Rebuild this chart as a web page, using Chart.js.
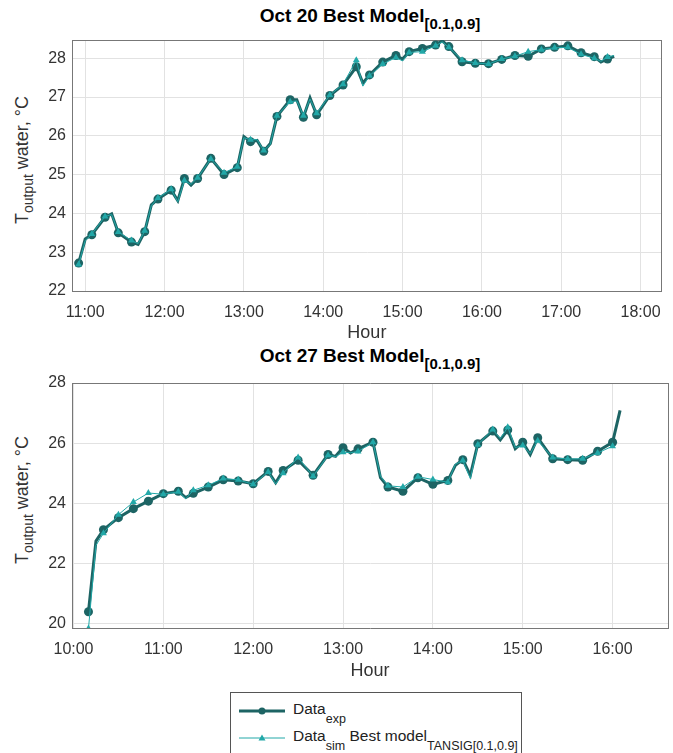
<!DOCTYPE html>
<html>
<head>
<meta charset="utf-8">
<script src="https://cdn.jsdelivr.net/npm/chart.js@4.4.0/dist/chart.umd.min.js"></script>
<style>
  body { margin: 0; background: #fff; width: 673px; height: 753px; overflow: hidden; position: relative;
         font-family: "Liberation Sans", Arial, sans-serif; }
  .box { position: absolute; left: 0; width: 673px; height: 345px; }
  .title { position: absolute; left: 72px; width: 596px; text-align: center; font-weight: bold; font-size: 19px; color: #000; }
  .title sub { font-size: 15px; position: relative; top: 2px; }
  .ylab { position: absolute; width: 300px; height: 24px; line-height: 24px; text-align: center; font-size: 18px;
          color: #333; transform: rotate(-90deg); white-space: nowrap; }
  .ylab sub { font-size: 14px; }
  #legend { position: absolute; left: 230px; top: 692px; width: 290px; height: 70px; border: 1px solid #555;
            background: #fff; font-size: 15.5px; color: #222; }
  .row { position: absolute; left: 6px; height: 24px; display: flex; align-items: center; }
  .row sub { font-size: 12.5px; position: relative; top: 4px; }
</style>
</head>
<body>
<div class="title" style="top:5px">Oct 20 Best Model<sub>[0.1,0.9]</sub></div>
<div class="ylab" style="left:-128px;top:148px">T<sub>output</sub> water, °C</div>
<div class="box" style="top:0"><canvas id="c1" width="673" height="345"></canvas></div>

<div class="title" style="top:345px">Oct 27 Best Model<sub>[0.1,0.9]</sub></div>
<div class="ylab" style="left:-128px;top:488px">T<sub>output</sub> water, °C</div>
<div class="box" style="top:345px"><canvas id="c2" width="673" height="345"></canvas></div>

<div id="legend">
  <div class="row" style="top:6px">
    <svg width="50" height="14"><line x1="2" y1="7" x2="48" y2="7" stroke="#1d6464" stroke-width="3"/><circle cx="25" cy="7" r="3.5" fill="#1d6464"/></svg>
    <span style="margin-left:6px">Data<sub>exp</sub></span>
  </div>
  <div class="row" style="top:33px">
    <svg width="50" height="14"><line x1="2" y1="7" x2="48" y2="7" stroke="#22a8a8" stroke-width="1"/><path d="M25 3.5 L28.5 9.5 L21.5 9.5 Z" fill="#22a8a8"/></svg>
    <span style="margin-left:6px">Data<sub>sim</sub> Best model<sub>TANSIG[0.1,0.9]</sub></span>
  </div>
</div>

<script>
// Oct 20
const oct20Times = ['10:55','11:00','11:05','11:15','11:20','11:25','11:35','11:40','11:45','11:50','11:55',
  '12:05','12:10','12:15','12:20','12:25','12:35','12:45','12:55','13:00','13:05','13:10','13:15','13:20','13:25',
  '13:35','13:40','13:45','13:50','13:55','14:05','14:15','14:25','14:30','14:35','14:45','14:55','15:00','15:05',
  '15:15','15:25','15:30','15:35','15:45','15:55','16:05','16:15','16:25','16:35','16:45','16:55','17:05','17:15',
  '17:25','17:30','17:35','17:40'];
const oct20Exp = [22.72,23.34,23.45,23.90,23.99,23.50,23.26,23.20,23.53,24.22,24.37,24.60,24.33,24.90,24.73,24.90,
  25.42,25.00,25.18,25.98,25.85,25.88,25.60,25.80,26.50,26.93,26.93,26.48,26.98,26.54,27.04,27.31,27.78,27.36,27.57,
  27.90,28.07,27.98,28.17,28.25,28.34,28.45,28.30,27.91,27.87,27.86,27.97,28.07,28.05,28.24,28.28,28.32,28.14,28.04,
  27.90,27.98,28.05];
const oct20Sim = [22.68,23.30,23.47,23.92,23.97,23.52,23.30,23.22,23.55,24.20,24.40,24.62,24.30,24.85,24.75,24.92,
  25.40,25.05,25.20,25.95,25.90,25.90,25.62,25.78,26.52,26.88,26.90,26.52,26.95,26.58,27.05,27.33,27.95,27.28,27.55,
  27.85,28.02,27.93,28.15,28.17,28.32,28.42,28.28,27.95,27.88,27.85,27.98,28.05,28.17,28.22,28.27,28.28,28.10,28.00,
  27.92,28.03,28.07];

// Oct 27
const oct27Times = ['10:10','10:15','10:20','10:30','10:40','10:50','11:00','11:10','11:15','11:20','11:30','11:40',
  '11:50','12:00','12:10','12:15','12:20','12:30','12:40','12:50','12:55','13:00','13:05','13:10','13:20','13:25',
  '13:30','13:40','13:50','14:00','14:10','14:15','14:20','14:25','14:30','14:40','14:45','14:50','14:55','15:00',
  '15:05','15:10','15:20','15:30','15:40','15:50','16:00','16:05'];
const oct27Exp = [20.39,22.74,23.12,23.52,23.82,24.07,24.32,24.40,24.19,24.33,24.54,24.78,24.74,24.65,25.06,24.68,
  25.09,25.43,24.93,25.62,25.56,25.85,25.67,25.81,26.03,24.85,24.54,24.40,24.85,24.63,24.76,25.26,25.45,24.93,25.98,
  26.40,26.11,26.44,25.81,26.03,25.62,26.18,25.48,25.45,25.43,25.73,26.03,27.09];
const oct27Sim = [19.83,22.60,23.00,23.62,24.04,24.34,24.30,24.38,24.15,24.43,24.60,24.82,24.78,24.63,25.04,24.64,
  25.00,25.52,24.90,25.60,25.55,25.70,25.68,25.72,26.03,24.90,24.58,24.54,24.88,24.79,24.70,25.30,25.42,24.82,25.95,
  26.45,26.15,26.53,25.85,25.92,25.65,26.08,25.52,25.47,25.48,25.67,25.90,null];

const hourTicks = ['10:00','11:00','12:00','13:00','14:00','15:00','16:00','17:00','18:00'];

const toMin = s => { const [h, m] = s.split(':').map(Number); return h * 60 + m; };
const fmt = v => Math.floor(v / 60) + ':' + String(v % 60).padStart(2, '0');
const hourMins = hourTicks.map(toMin);

function makeChart(id, times, exp, sim, opt) {
  const pts = arr => times.map((t, i) => ({ x: toMin(t), y: arr[i] }));
  const marked = c => c.raw && (c.raw.x % 10) === opt.markRem;
  const tickFont = { family: '"Liberation Sans", Arial, sans-serif', size: 16 };
  new Chart(document.getElementById(id), {
    type: 'line',
    data: {
      datasets: [
        { label: 'Data sim', data: pts(sim), borderColor: '#22a8a8', backgroundColor: '#22a8a8', borderWidth: 1,
          pointStyle: 'triangle', pointRadius: c => marked(c) ? 4 : 0, pointBorderWidth: 0, order: 0 },
        { label: 'Data exp', data: pts(exp), borderColor: '#1d6464', backgroundColor: '#1d6464', borderWidth: 3,
          pointStyle: 'circle', pointRadius: c => marked(c) ? 4.5 : 0, pointBorderWidth: 0, order: 1 }
      ]
    },
    options: {
      responsive: false,
      animation: false,
      layout: { padding: { top: opt.padTop, right: 5, left: 0, bottom: 0 } },
      plugins: { legend: { display: false }, tooltip: { enabled: false } },
      scales: {
        x: {
          type: 'linear', min: opt.xMin, max: opt.xMax,
          afterBuildTicks: s => { s.ticks = hourMins.filter(v => v >= opt.xMin && v <= opt.xMax).map(v => ({ value: v })); },
          afterFit: s => { s.height = opt.xHeight; },
          ticks: { callback: v => fmt(v), color: '#333', font: tickFont, padding: 12, maxRotation: 0 },
          grid: { color: '#e2e2e2', drawTicks: false },
          border: { color: '#777' },
          title: { display: true, text: 'Hour', color: '#333', font: { family: tickFont.family, size: 18 },
                   padding: { top: 0, bottom: opt.titlePad } }
        },
        y: {
          min: opt.yMin, max: opt.yMax,
          afterBuildTicks: s => { s.ticks = opt.yTicks.map(v => ({ value: v })); },
          afterFit: s => { s.width = 72; },
          ticks: { color: '#333', font: tickFont, padding: 6 },
          grid: { color: '#e2e2e2', drawTicks: false },
          border: { color: '#777' }
        },
        x2: { position: 'top', display: true, afterFit: s => { s.height = 0; },
              ticks: { display: false }, grid: { display: false }, border: { color: '#777' } },
        y2: { position: 'right', display: true, afterFit: s => { s.width = 0; },
              ticks: { display: false }, grid: { display: false }, border: { color: '#777' } }
      }
    }
  });
}

makeChart('c1', oct20Times, oct20Exp, oct20Sim, {
  xMin: toMin('10:50'), xMax: toMin('18:16'), yMin: 22, yMax: 28.47, yTicks: [22, 23, 24, 25, 26, 27, 28],
  markRem: 5, padTop: 40, xHeight: 54, titlePad: 1
});
makeChart('c2', oct27Times, oct27Exp, oct27Sim, {
  xMin: toMin('9:59'), xMax: toMin('16:37'), yMin: 19.85, yMax: 28, yTicks: [20, 22, 24, 26, 28],
  markRem: 0, padTop: 38, xHeight: 62, titlePad: 8
});
</script>
</body>
</html>
